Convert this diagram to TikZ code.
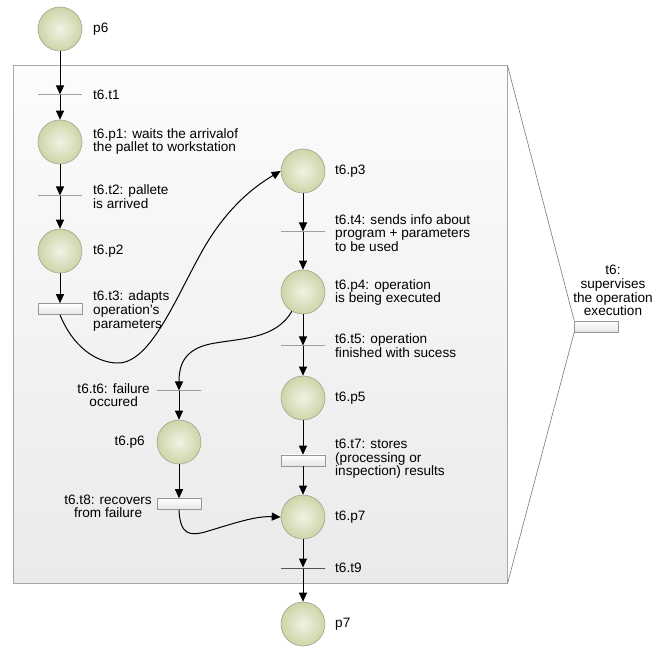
\documentclass[tikz,border=0pt]{standalone}
\usepackage{fontspec}
\setmainfont{Liberation Sans}
\usetikzlibrary{arrows.meta}
\definecolor{placein}{RGB}{241,243,228}
\definecolor{placeout}{RGB}{204,213,168}
\definecolor{placeedge}{RGB}{160,166,140}
\definecolor{boxedge}{RGB}{168,168,168}
\definecolor{boxtop}{RGB}{252,252,252}
\definecolor{boxbot}{RGB}{234,234,234}
\definecolor{slotedge}{RGB}{150,150,150}
\definecolor{fanline}{RGB}{120,120,120}

\begin{document}
\begin{tikzpicture}[x=1pt,y=-1pt,
  font=\fontsize{13.6}{13.6}\selectfont,
  place/.style={circle, minimum size=44pt, inner sep=0pt, draw=placeedge,
    line width=0.6pt, shading=radial, inner color=placein, outer color=placeout},
  bar/.style={rectangle, minimum width=44pt, minimum height=0pt, inner sep=0pt,
    draw=black, line width=1pt},
  slot/.style={rectangle, minimum width=44pt, minimum height=11pt, inner sep=0pt,
    draw=slotedge, line width=0.6pt, top color=white, bottom color=black!10},
  subnet/.style={rectangle, minimum width=494pt, minimum height=517pt, inner sep=0pt,
    draw=boxedge, line width=1pt, top color=boxtop, bottom color=boxbot},
  lbl/.style={anchor=west, align=left, inner sep=0pt},
  lblr/.style={anchor=east, align=center, inner sep=0pt},
  arc/.style={draw=black, line width=1pt, -{Triangle[length=9pt,width=8pt]}},
]
\useasboundingbox (0,0) rectangle (665,647);

% refinement box of transition t6
\node[subnet] (sub) at (260,324.5) {};

% summary transition t6 and its fan-out to the refinement
\node[slot] (t6sum) at (596.5,326.5) {};
\draw[fanline, line width=0.6pt] (sub.north east) -- (t6sum.north west);
\draw[fanline, line width=0.6pt] (sub.south east) -- (t6sum.south west);
\node[lblr, anchor=south] (t6sumlbl) at (613,316) {t6:\\supervises\\the operation\\execution};

% left column
\node[place] (p6)  at (60,29) {};
\node[bar]   (t1)  at (60,95) {};
\node[place] (p1)  at (60,142) {};
\node[bar]   (t2)  at (60,196) {};
\node[place] (p2)  at (60,251) {};
\node[slot]  (t3)  at (60,309) {};

% right column
\node[place] (p3)  at (303,171) {};
\node[bar]   (t4)  at (303,232) {};
\node[place] (p4)  at (303,292) {};
\node[bar]   (t5)  at (303,346) {};
\node[place] (p5)  at (303,398) {};
\node[slot]  (t7)  at (303,460.5) {};
\node[place] (p7i) at (303,517) {};
\node[bar]   (t9)  at (303,568) {};
\node[place] (p7)  at (303,624) {};

% failure branch
\node[bar]   (t6)  at (179,391) {};
\node[place] (p6i) at (179,442) {};
\node[slot]  (t8)  at (179,504) {};

% labels
\node[lbl] (lp6)  at (93,29)    {p6};
\node[lbl] (lt1)  at (93,95)    {t6.t1};
\node[lbl] (lp1)  at (93,141.5) {t6.p1: waits the arrivalof\\the pallet to workstation};
\node[lbl] (lt2)  at (93,196.5) {t6.t2: pallete\\is arrived};
\node[lbl] (lp2)  at (93,251)   {t6.p2};
\node[lbl] (lt3)  at (93,311)   {t6.t3: adapts\\operation’s\\parameters};
\node[lbl] (lp3)  at (335,171)  {t6.p3};
\node[lbl] (lt4)  at (335,233)  {t6.t4: sends info about\\program + parameters\\to be used};
\node[lbl] (lp4)  at (335,292.5){t6.p4: operation\\is being executed};
\node[lbl] (lt5)  at (335,345.5){t6.t5: operation\\finished with sucess};
\node[lbl] (lp5)  at (335,398)  {t6.p5};
\node[lbl] (lt7)  at (335,459)  {t6.t7: stores\\(processing or\\inspection) results};
\node[lbl] (lp7i) at (335,517)  {t6.p7};
\node[lbl] (lt9)  at (335,568)  {t6.t9};
\node[lbl] (lp7)  at (335,624)  {p7};
\node[lblr] (lt6)  at (150,395)  {t6.t6: failure\\occured};
\node[lblr] (lp6i) at (145,442)  {t6.p6};
\node[lblr] (lt8)  at (152,506.5){t6.t8: recovers\\from failure};

% straight arcs
\draw[arc] (p6) -- (t1);
\draw[arc] (t1) -- (p1);
\draw[arc] (p1) -- (t2);
\draw[arc] (t2) -- (p2);
\draw[arc] (p2) -- (t3);
\draw[arc] (p3) -- (t4);
\draw[arc] (t4) -- (p4);
\draw[arc] (p4) -- (t5);
\draw[arc] (t5) -- (p5);
\draw[arc] (p5) -- (t7);
\draw[arc] (t7) -- (p7i);
\draw[arc] (p7i) -- (t9);
\draw[arc] (t9) -- (p7);
\draw[arc] (t6) -- (p6i);
\draw[arc] (p6i) -- (t8);

% curved arcs
\draw[arc] (t3.south) .. controls (72,345) and (95,363) .. (118,363)
  .. controls (150,363) and (175,300) .. (200,255)
  .. controls (220,218) and (245,192) .. (p3.west);
\draw[arc] (p4.240) .. controls (275,340) and (240,338) .. (210,344)
  .. controls (182,350) and (179,368) .. (t6);
\draw[arc] (t8.south) .. controls (180,535) and (190,536) .. (205,532)
  .. controls (235,523) and (255,516) .. (p7i.west);
\end{tikzpicture}
\end{document}
